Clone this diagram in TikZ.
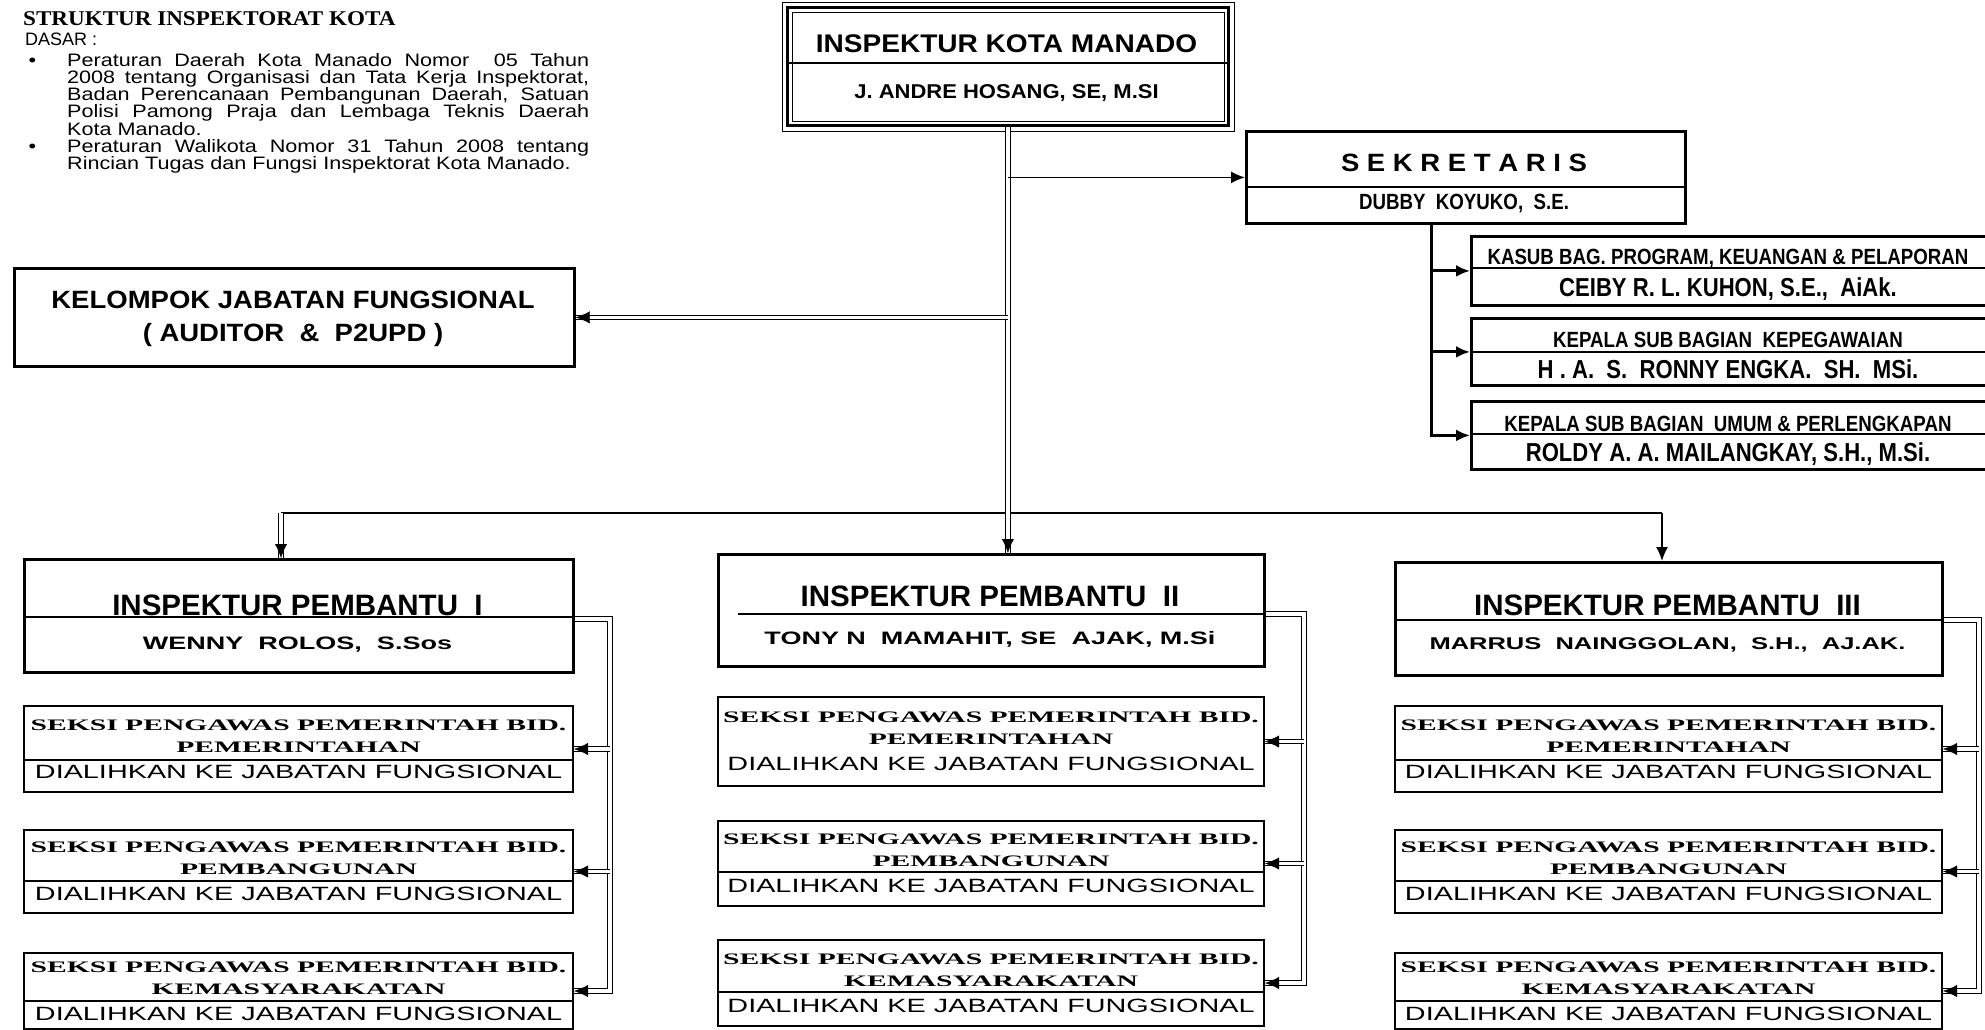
\documentclass[tikz,border=0pt]{standalone}
\usepackage{fontspec}
\setmainfont{Liberation Sans}
\newfontfamily\parafont[FakeStretch=1.2]{Liberation Sans}
\newfontfamily\headfont[FakeStretch=1.1]{Liberation Serif}
\newfontfamily\gothicfont[FakeStretch=1.1]{Liberation Sans}
\newfontfamily\condfont[FakeStretch=0.85]{Liberation Sans}
\newfontfamily\widefont[FakeStretch=1.5]{Liberation Sans}
\newfontfamily\seksifont[FakeStretch=1.85]{Liberation Serif}
\usetikzlibrary{positioning, arrows.meta}

\begin{document}
\begin{tikzpicture}[x=1pt, y=-1pt,
orgbox/.style={draw, line width=2.8pt, anchor=north west, inner sep=0pt},
seksibox/.style={draw, line width=2pt, anchor=north west, inner sep=0pt, align=center, font=\seksifont\bfseries\fontsize{16}{22}\selectfont},
txt/.style={inner sep=0pt, anchor=base},
split/.style={line width=1.2pt},
dbl/.style={draw, line width=1.1pt, double distance=3.2pt},
bus/.style={draw, line width=1.5pt},
stem/.style={draw, line width=3pt},
arr/.style={-{Latex[length=14pt, width=12pt]}},
tip/.style={draw=white, line width=0.3pt, -{Latex[length=14pt, width=12pt, color=black]}},
]
\fill[white] (0,0) rectangle (1985,1029);
\useasboundingbox (0,0) rectangle (1985,1029);

%Dasar
\node[anchor=west, inner sep=0pt, font=\headfont\bfseries\fontsize{21}{21}\selectfont] (judul) at (23,19) {STRUKTUR INSPEKTORAT KOTA};
\node[anchor=west, inner sep=0pt, font=\fontsize{18}{18}\selectfont] (dasar) at (25,39) {DASAR :};
\node[anchor=north west, inner sep=0pt, text width=522pt, align=justify, font=\parafont\fontsize{18}{17.2}\selectfont] (aturan) at (67,53)
  {\setlength{\parindent}{0pt}\makebox[0pt][r]{\textbullet\hspace{31pt}}Peraturan Daerah Kota Manado Nomor~~05 Tahun\linebreak 2008 tentang Organisasi dan Tata Kerja Inspektorat,\linebreak Badan Perencanaan Pembangunan Daerah, Satuan\linebreak Polisi Pamong Praja dan Lembaga Teknis Daerah\linebreak Kota Manado.\par
   \parfillskip=0pt\makebox[0pt][r]{\textbullet\hspace{31pt}}Peraturan Walikota Nomor 31 Tahun 2008 tentang\linebreak Rincian Tugas dan Fungsi Inspektorat Kota Manado.};

%Pimpinan
\node[orgbox, minimum width=441pt, minimum height=118pt] (kota) at (786,6) {};
\draw[thin] ([shift={(-4,-4)}]kota.north west) rectangle ([shift={(4,4)}]kota.south east);
\draw[thin] ([shift={(6,6)}]kota.north west) rectangle ([shift={(-6,-6)}]kota.south east);
\draw[split] (kota.west |- 0,63) -- (kota.east |- 0,63);
\node[txt, font=\gothicfont\bfseries\fontsize{25.5}{26}\selectfont] (kotaJ) at (1006.5,52) {INSPEKTUR KOTA MANADO};
\node[txt, font=\gothicfont\bfseries\fontsize{20}{20}\selectfont] (kotaN) at (1006.5,98) {J. ANDRE HOSANG, SE, M.SI};

\node[orgbox, minimum width=439pt, minimum height=92pt] (sek) at (1245,130) {};
\draw[split] (sek.west |- 0,187) -- (sek.east |- 0,187);
\node[txt, font=\gothicfont\bfseries\fontsize{25}{25}\selectfont] (sekJ) at (1464,171) {S E K R E T A R I S};
\node[txt, font=\condfont\bfseries\fontsize{22}{22}\selectfont] (sekN) at (1464,209) {DUBBY~~KOYUKO,~~S.E.};

\node[orgbox, minimum width=520pt, minimum height=69pt] (sub1) at (1470,235) {};
\draw[split] (sub1.west |- 0,268) -- (sub1.east |- 0,268);
\node[txt, font=\condfont\bfseries\fontsize{22}{22}\selectfont] (sub1J) at (1728,264) {KASUB BAG. PROGRAM, KEUANGAN \& PELAPORAN};
\node[txt, font=\condfont\bfseries\fontsize{26}{26}\selectfont] (sub1N) at (1728,296) {CEIBY R. L. KUHON, S.E.,~~AiAk.};

\node[orgbox, minimum width=520pt, minimum height=67pt] (sub2) at (1470,317) {};
\draw[split] (sub2.west |- 0,352) -- (sub2.east |- 0,352);
\node[txt, font=\condfont\bfseries\fontsize{22}{22}\selectfont] (sub2J) at (1728,347) {KEPALA SUB BAGIAN~~KEPEGAWAIAN};
\node[txt, font=\condfont\bfseries\fontsize{26}{26}\selectfont] (sub2N) at (1728,378) {H . A.~~S.~~RONNY ENGKA.~~SH.~~MSi.};

\node[orgbox, minimum width=520pt, minimum height=68pt] (sub3) at (1470,400) {};
\draw[split] (sub3.west |- 0,434) -- (sub3.east |- 0,434);
\node[txt, font=\condfont\bfseries\fontsize{22}{22}\selectfont] (sub3J) at (1728,431) {KEPALA SUB BAGIAN~~UMUM \& PERLENGKAPAN};
\node[txt, font=\condfont\bfseries\fontsize{26}{26}\selectfont] (sub3N) at (1728,461) {ROLDY A. A. MAILANGKAY, S.H., M.Si.};

\node[orgbox, minimum width=560pt, minimum height=98pt] (kel) at (13,267) {};
\node[txt, font=\gothicfont\bfseries\fontsize{25}{26}\selectfont] (kelJ) at (293,308) {KELOMPOK JABATAN FUNGSIONAL};
\node[txt, font=\gothicfont\bfseries\fontsize{25}{26}\selectfont] (kelN) at (293,341) {(~AUDITOR~~\&~~P2UPD~)};

%Inspektur Pembantu
\node[orgbox, minimum width=549pt, minimum height=113pt] (ipI) at (23,558) {};
\draw[split] (ipI.west |- 0,617) -- (ipI.east |- 0,617);
\node[txt, font=\bfseries\fontsize{29.5}{30}\selectfont] (ipIJ) at (297.5,615) {INSPEKTUR PEMBANTU~~I};
\node[txt, font=\widefont\bfseries\fontsize{18}{18}\selectfont] (ipIN) at (297.5,649) {WENNY~~ROLOS,~~S.Sos};

\node[orgbox, minimum width=546pt, minimum height=112pt] (ipII) at (717,553) {};
\draw[split] (738,614) -- (ipII.east |- 0,614);
\node[txt, font=\bfseries\fontsize{29.5}{30}\selectfont] (ipIIJ) at (990,606) {INSPEKTUR PEMBANTU~~II};
\node[txt, font=\widefont\bfseries\fontsize{18}{18}\selectfont] (ipIIN) at (990,644) {TONY N~~MAMAHIT, SE~~AJAK, M.Si};

\node[orgbox, minimum width=547pt, minimum height=113pt] (ipIII) at (1394,561) {};
\draw[split] (ipIII.west |- 0,620) -- (ipIII.east |- 0,620);
\node[txt, font=\bfseries\fontsize{29.5}{30}\selectfont] (ipIIIJ) at (1667.5,615) {INSPEKTUR PEMBANTU~~III};
\node[txt, font=\widefont\bfseries\fontsize{17}{18}\selectfont] (ipIIIN) at (1667.5,649) {MARRUS~~NAINGGOLAN,~~S.H.,~~AJ.AK.};

%Seksi
\node[seksibox, minimum width=549pt, minimum height=86pt] (sI1) at (23,705) {SEKSI PENGAWAS PEMERINTAH BID.\\PEMERINTAHAN\\[4pt]{\widefont\mdseries\fontsize{19.2}{20}\selectfont DIALIHKAN KE JABATAN FUNGSIONAL}};
\draw[split] (sI1.west |- 0,760) -- (sI1.east |- 0,760);
\node[seksibox, minimum width=549pt, minimum height=83pt] (sI2) at (23,829) {SEKSI PENGAWAS PEMERINTAH BID.\\PEMBANGUNAN\\[4pt]{\widefont\mdseries\fontsize{19.2}{20}\selectfont DIALIHKAN KE JABATAN FUNGSIONAL}};
\draw[split] (sI2.west |- 0,881) -- (sI2.east |- 0,881);
\node[seksibox, minimum width=549pt, minimum height=76pt] (sI3) at (23,952) {SEKSI PENGAWAS PEMERINTAH BID.\\KEMASYARAKATAN\\[4pt]{\widefont\mdseries\fontsize{19.2}{20}\selectfont DIALIHKAN KE JABATAN FUNGSIONAL}};
\draw[split] (sI3.west |- 0,1001) -- (sI3.east |- 0,1001);

\node[seksibox, minimum width=546pt, minimum height=89pt] (sII1) at (717,696) {SEKSI PENGAWAS PEMERINTAH BID.\\PEMERINTAHAN\\[4pt]{\widefont\mdseries\fontsize{19.2}{20}\selectfont DIALIHKAN KE JABATAN FUNGSIONAL}};
\node[seksibox, minimum width=546pt, minimum height=85pt] (sII2) at (717,820) {SEKSI PENGAWAS PEMERINTAH BID.\\PEMBANGUNAN\\[4pt]{\widefont\mdseries\fontsize{19.2}{20}\selectfont DIALIHKAN KE JABATAN FUNGSIONAL}};
\draw[split] (sII2.west |- 0,872) -- (sII2.east |- 0,872);
\node[seksibox, minimum width=546pt, minimum height=86pt] (sII3) at (717,939) {SEKSI PENGAWAS PEMERINTAH BID.\\KEMASYARAKATAN\\[4pt]{\widefont\mdseries\fontsize{19.2}{20}\selectfont DIALIHKAN KE JABATAN FUNGSIONAL}};
\draw[split] (sII3.west |- 0,992) -- (sII3.east |- 0,992);

\node[seksibox, minimum width=547pt, minimum height=86pt] (sIII1) at (1394,705) {SEKSI PENGAWAS PEMERINTAH BID.\\PEMERINTAHAN\\[4pt]{\widefont\mdseries\fontsize{19.2}{20}\selectfont DIALIHKAN KE JABATAN FUNGSIONAL}};
\draw[split] (sIII1.west |- 0,760) -- (sIII1.east |- 0,760);
\node[seksibox, minimum width=547pt, minimum height=83pt] (sIII2) at (1394,829) {SEKSI PENGAWAS PEMERINTAH BID.\\PEMBANGUNAN\\[4pt]{\widefont\mdseries\fontsize{19.2}{20}\selectfont DIALIHKAN KE JABATAN FUNGSIONAL}};
\draw[split] (sIII2.west |- 0,881) -- (sIII2.east |- 0,881);
\node[seksibox, minimum width=547pt, minimum height=76pt] (sIII3) at (1394,952) {SEKSI PENGAWAS PEMERINTAH BID.\\KEMASYARAKATAN\\[4pt]{\widefont\mdseries\fontsize{19.2}{20}\selectfont DIALIHKAN KE JABATAN FUNGSIONAL}};
\draw[split] (sIII3.west |- 0,1001) -- (sIII3.east |- 0,1001);

%Lines
\coordinate (busL) at (281,513);
\coordinate (busR) at (1662,513);
\draw[bus] (busL) -- (busR);
\draw[dbl] (kota.south) -- (kota.south |- ipII.north);
\draw[tip] (kota.south) -- (kota.south |- ipII.north);
\draw[bus, arr] (kota.south |- sek.west) -- (sek.west);
\draw[dbl] (kota.south |- kel.east) -- (kel.east);
\draw[tip] (kota.south |- kel.east) -- (kel.east);
\draw[dbl] (busL) -- (busL |- ipI.north);
\draw[tip] (busL) -- (busL |- ipI.north);
\draw[bus, arr] (busR) -- (busR |- ipIII.north);

\coordinate (sekstem) at (1431,222);
\draw[stem, arr] (sekstem) |- (sub3.west);
\draw[stem, arr] (sekstem |- sub1.west) -- (sub1.west);
\draw[stem, arr] (sekstem |- sub2.west) -- (sub2.west);

\coordinate (kananI) at (610,619);
\draw[dbl] (ipI.east |- kananI) -- (kananI) |- (sI3.east);
\draw[dbl] (kananI |- sI1.east) -- (sI1.east);
\draw[dbl] (kananI |- sI2.east) -- (sI2.east);
\draw[tip] (kananI |- sI1.east) -- (sI1.east);
\draw[tip] (kananI |- sI2.east) -- (sI2.east);
\draw[tip] (kananI |- sI3.east) -- (sI3.east);

\coordinate (kananII) at (1304,614);
\draw[dbl] (ipII.east |- kananII) -- (kananII) |- (sII3.east);
\draw[dbl] (kananII |- sII1.east) -- (sII1.east);
\draw[dbl] (kananII |- sII2.east) -- (sII2.east);
\draw[tip] (kananII |- sII1.east) -- (sII1.east);
\draw[tip] (kananII |- sII2.east) -- (sII2.east);
\draw[tip] (kananII |- sII3.east) -- (sII3.east);

\coordinate (kananIII) at (1979,620);
\draw[dbl] (ipIII.east |- kananIII) -- (kananIII) |- (sIII3.east);
\draw[dbl] (kananIII |- sIII1.east) -- (sIII1.east);
\draw[dbl] (kananIII |- sIII2.east) -- (sIII2.east);
\draw[tip] (kananIII |- sIII1.east) -- (sIII1.east);
\draw[tip] (kananIII |- sIII2.east) -- (sIII2.east);
\draw[tip] (kananIII |- sIII3.east) -- (sIII3.east);
\end{tikzpicture}
\end{document}
